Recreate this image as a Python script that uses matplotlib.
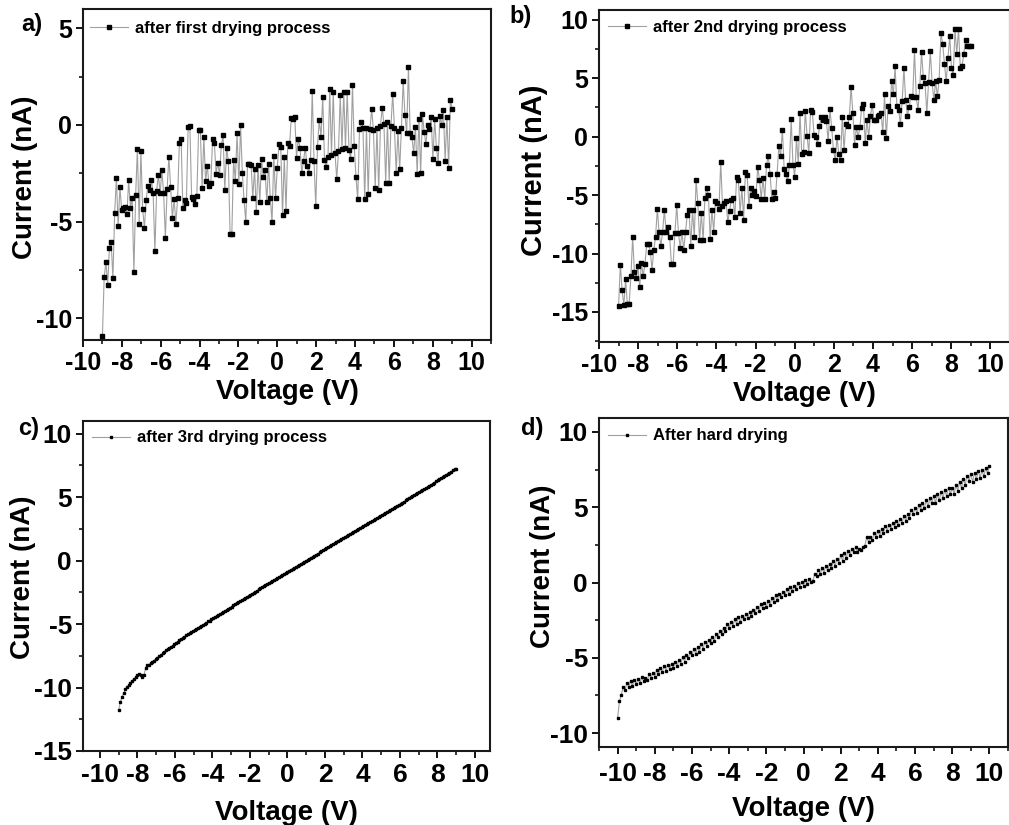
import matplotlib
matplotlib.use("Agg")
import matplotlib.pyplot as plt
from matplotlib.ticker import MultipleLocator

plt.rcParams['font.family'] = ['Liberation Sans', 'DejaVu Sans']
plt.rcParams['font.weight'] = 'bold'
plt.rcParams['axes.unicode_minus'] = False

# ---------------- data ----------------
VOLT_AB = [
    -9.00, -8.91, -8.82, -8.73, -8.64, -8.55, -8.46, -8.37, -8.28, -8.19,
    -8.10, -8.01, -7.92, -7.83, -7.74, -7.65, -7.56, -7.47, -7.38, -7.29,
    -7.20, -7.11, -7.02, -6.93, -6.84, -6.75, -6.66, -6.57, -6.48, -6.39,
    -6.30, -6.21, -6.12, -6.03, -5.94, -5.85, -5.76, -5.67, -5.58, -5.49,
    -5.40, -5.31, -5.22, -5.13, -5.04, -4.95, -4.86, -4.77, -4.68, -4.59,
    -4.50, -4.41, -4.32, -4.23, -4.14, -4.05, -3.96, -3.87, -3.78, -3.69,
    -3.60, -3.51, -3.42, -3.33, -3.24, -3.15, -3.06, -2.97, -2.88, -2.79,
    -2.70, -2.61, -2.52, -2.43, -2.34, -2.25, -2.16, -2.07, -1.98, -1.89,
    -1.80, -1.71, -1.62, -1.53, -1.44, -1.35, -1.26, -1.17, -1.08, -0.99,
    -0.90, -0.81, -0.72, -0.63, -0.54, -0.45, -0.36, -0.27, -0.18, -0.09,
    0.00, 0.09, 0.18, 0.27, 0.36, 0.45, 0.54, 0.63, 0.72, 0.81,
    0.90, 0.99, 1.08, 1.17, 1.26, 1.35, 1.44, 1.53, 1.62, 1.71,
    1.80, 1.89, 1.98, 2.07, 2.16, 2.25, 2.34, 2.43, 2.52, 2.61,
    2.70, 2.79, 2.88, 2.97, 3.06, 3.15, 3.24, 3.33, 3.42, 3.51,
    3.60, 3.69, 3.78, 3.87, 3.96, 4.05, 4.14, 4.23, 4.32, 4.41,
    4.50, 4.59, 4.68, 4.77, 4.86, 4.95, 5.04, 5.13, 5.22, 5.31,
    5.40, 5.49, 5.58, 5.67, 5.76, 5.85, 5.94, 6.03, 6.12, 6.21,
    6.30, 6.39, 6.48, 6.57, 6.66, 6.75, 6.84, 6.93, 7.02, 7.11,
    7.20, 7.29, 7.38, 7.47, 7.56, 7.65, 7.74, 7.83, 7.92, 8.01,
    8.10, 8.19, 8.28, 8.37, 8.46, 8.55, 8.64, 8.73, 8.82, 8.91,
    9.00,
]

I_A = [
    -10.93, -7.88, -7.08, -8.27, -6.36, -6.06, -7.94, -4.56, -2.75, -5.23,
    -3.21, -4.39, -4.28, -4.23, -4.63, -2.87, -4.28, -3.77, -7.62, -3.64,
    -1.23, -5.11, -1.35, -4.37, -5.32, -3.89, -3.16, -3.39, -2.85, -3.54,
    -6.53, -3.42, -2.61, -3.51, -2.35, -3.54, -5.84, -3.33, -1.64, -3.20,
    -4.80, -3.85, -5.11, -3.80, -0.92, -0.74, -4.30, -3.90, -4.06, -0.10,
    -0.05, -3.73, -3.83, -4.09, -3.68, -0.26, -0.26, -3.25, -0.62, -2.90,
    -2.11, -3.18, -2.99, -0.74, -0.93, -2.52, -1.97, -2.57, -1.04, -0.54,
    -3.39, -1.17, -1.87, -5.66, -5.63, -1.81, -2.90, -0.43, -3.04, -0.02,
    -2.47, -3.90, -5.03, -2.00, -2.00, -2.07, -3.77, -2.26, -4.49, -2.07,
    -3.99, -1.78, -2.68, -2.35, -3.99, -2.00, -3.80, -5.03, -1.61, -3.77,
    -2.21, -1.00, -1.14, -4.68, -1.66, -4.46, -0.92, -1.09, 0.38, 0.33,
    0.41, -1.69,
    -0.71, -1.17, -2.47, -1.87, -1.17, -2.12, -2.50, -1.83, 1.76, -1.87,
    -4.20, -1.12, 0.26, -0.62, 1.47, -1.83, -2.16, -1.66, 1.85, -1.55,
    1.73, -1.43, -2.82, -1.35, 1.54, -1.23, 1.73, -1.17, 1.73, -1.30,
    -1.78, 2.07, -1.09, -2.68, -3.85, -0.22, 0.17, -0.14, -3.85, -0.14,
    -3.59, -0.19, 0.81, -0.28, -3.25, -0.14, -3.39, -0.07, 0.90, 0.03,
    -2.99, 0.17, -2.99, -0.05, 1.62, -0.14, -2.47, -0.31, -2.30, -0.14,
    2.28, 0.52, -0.43, 3.01, -0.43, -0.62, -1.47, -0.10, -2.52, 0.29,
    -2.47, 0.55, -0.36, -1.00, -0.02, -0.22, 0.41, -1.78, 0.29, -1.17,
    -1.95, 0.47, 0.00, 0.78, -1.87, 0.41, -2.21, 1.28, 0.85,
]

I_B = [
    -14.50, -10.94, -13.08, -14.44, -12.22, -14.36, -14.36, -11.94, -8.58, -11.60,
    -12.08, -11.08, -12.85, -10.80, -11.94, -10.88, -9.15, -9.17, -9.83, -11.37,
    -9.66, -8.58, -6.18, -8.18, -9.37, -8.15, -6.24, -8.15, -7.75, -8.58,
    -10.88, -10.88, -8.23, -5.87, -8.23, -9.52, -8.18, -9.66, -8.15, -6.67,
    -6.30, -9.32, -6.30, -8.58, -3.70, -5.67, -8.86, -6.52, -8.86, -5.21,
    -4.39, -4.96, -8.72, -6.24, -8.15, -5.53, -5.67, -6.15, -2.14, -5.90,
    -5.67, -5.47, -7.32, -6.38, -5.38, -5.27, -6.87, -3.48, -3.68, -6.52,
    -4.39, -7.09, -3.05, -3.30, -5.95, -4.39, -5.01, -4.62, -5.04, -2.59,
    -3.68, -5.30, -3.56, -5.30, -2.39, -1.68, -3.16, -5.33, -4.76, -5.27,
    -3.16, -0.83, -1.62, 0.60, -2.76, -3.16, -3.82, -2.39, 1.54, -2.39,
    -3.45, -0.11, -2.34, 2.02, -1.48, -1.34, 2.22, 0.09,
    -1.40, 2.25, 2.08, 0.17, -0.03, -0.60, 0.88, 1.65, 1.45, 1.68,
    1.31, -0.40, 2.36, 0.74, -1.17, -1.97, -0.03, -1.45, -1.97, 1.68,
    -1.17, 1.11, 0.94, 1.68, 4.25, 2.02, -0.68, 0.83, -0.03, 0.83,
    2.45, 2.82, -0.54, 1.45, -0.03, 1.79, 2.74, 1.45, 1.40, 1.74,
    1.88, 2.02, 0.37, 3.65, -0.11, 2.59, 2.22, 4.73, 3.68, 6.01,
    2.59, 2.31, 1.08, 3.02, 5.87, 3.11, 1.79, 2.54, 3.45, 3.39,
    7.38, 3.39, 2.31, 4.30, 7.24, 5.10, 4.59, 2.02, 4.64, 7.29,
    4.59, 3.16, 4.73, 3.45, 4.81, 8.86, 7.95, 6.24, 4.73, 6.72,
    8.63, 5.87, 5.30, 9.20, 7.09, 9.20, 5.87, 6.01, 7.09, 8.29,
    7.78, 7.78, 7.78,
]

I_C = [
    -11.80, -11.15, -10.75, -10.45, -10.15, -9.95, -9.78, -9.62, -9.48, -9.32,
    -9.18, -9.02, -8.95, -9.05, -9.20, -9.05, -8.45, -8.25, -8.20, -8.08,
    -7.98, -7.87, -7.75, -7.64, -7.53, -7.42, -7.31, -7.20, -7.08, -6.97,
    -6.88, -6.78, -6.69, -6.56, -6.47, -6.38, -6.28, -6.20, -6.10, -5.99,
    -5.90, -5.82, -5.74, -5.63, -5.56, -5.47, -5.39, -5.30, -5.21, -5.14,
    -5.05, -4.96, -4.88, -4.79, -4.72, -4.63, -4.55, -4.42, -4.38, -4.28,
    -4.21, -4.12, -4.04, -3.96, -3.87, -3.79, -3.70, -3.62, -3.53, -3.45,
    -3.36, -3.28, -3.19, -3.11, -3.02, -2.94, -2.85, -2.77, -2.68, -2.60,
    -2.52, -2.44, -2.36, -2.27, -2.19, -2.10, -2.02, -1.94, -1.86, -1.78,
    -1.70, -1.62, -1.53, -1.45, -1.37, -1.29, -1.20, -1.12, -1.04, -0.96,
    -0.88, -0.80, -0.72, -0.64, -0.56, -0.48, -0.40, -0.32, -0.24, -0.16,
    -0.08, 0.00, 0.08, 0.16, 0.24, 0.32, 0.40, 0.48, 0.56, 0.64,
    0.72, 0.80, 0.88, 0.96, 1.04, 1.12, 1.20, 1.28, 1.36, 1.44,
    1.52, 1.60, 1.68, 1.76, 1.84, 1.92, 2.00, 2.08, 2.16, 2.24,
    2.32, 2.40, 2.48, 2.56, 2.64, 2.72, 2.80, 2.88, 2.96, 3.04,
    3.12, 3.20, 3.28, 3.36, 3.44, 3.52, 3.60, 3.68, 3.76, 3.84,
    3.92, 4.00, 4.08, 4.16, 4.24, 4.33, 4.41, 4.49, 4.57, 4.65,
    4.74, 4.82, 4.90, 4.98, 5.07, 5.15, 5.23, 5.32, 5.40, 5.48,
    5.57, 5.65, 5.73, 5.82, 5.90, 5.98, 6.07, 6.15, 6.24, 6.32,
    6.41, 6.49, 6.58, 6.66, 6.75, 6.84, 6.93, 7.02, 7.11, 7.20,
    7.25,
]

VOLT_D = [
    -10.0, -9.9, -9.8, -9.7, -9.6, -9.5, -9.4, -9.3, -9.2, -9.1,
    -9.0, -8.9, -8.8, -8.7, -8.6, -8.5, -8.4, -8.3, -8.2, -8.1,
    -8.0, -7.9, -7.8, -7.7, -7.6, -7.5, -7.4, -7.3, -7.2, -7.1,
    -7.0, -6.9, -6.8, -6.7, -6.6, -6.5, -6.4, -6.3, -6.2, -6.1,
    -6.0, -5.9, -5.8, -5.7, -5.6, -5.5, -5.4, -5.3, -5.2, -5.1,
    -5.0, -4.9, -4.8, -4.7, -4.6, -4.5, -4.4, -4.3, -4.2, -4.1,
    -4.0, -3.9, -3.8, -3.7, -3.6, -3.5, -3.4, -3.3, -3.2, -3.1,
    -3.0, -2.9, -2.8, -2.7, -2.6, -2.5, -2.4, -2.3, -2.2, -2.1,
    -2.0, -1.9, -1.8, -1.7, -1.6, -1.5, -1.4, -1.3, -1.2, -1.1,
    -1.0, -0.9, -0.8, -0.7, -0.6, -0.5, -0.4, -0.3, -0.2, -0.1,
    0.0, 0.1, 0.2, 0.3, 0.4, 0.5, 0.6, 0.7, 0.8, 0.9,
    1.0, 1.1, 1.2, 1.3, 1.4, 1.5, 1.6, 1.7, 1.8, 1.9,
    2.0, 2.1, 2.2, 2.3, 2.4, 2.5, 2.6, 2.7, 2.8, 2.9,
    3.0, 3.1, 3.2, 3.3, 3.4, 3.5, 3.6, 3.7, 3.8, 3.9,
    4.0, 4.1, 4.2, 4.3, 4.4, 4.5, 4.6, 4.7, 4.8, 4.9,
    5.0, 5.1, 5.2, 5.3, 5.4, 5.5, 5.6, 5.7, 5.8, 5.9,
    6.0, 6.1, 6.2, 6.3, 6.4, 6.5, 6.6, 6.7, 6.8, 6.9,
    7.0, 7.1, 7.2, 7.3, 7.4, 7.5, 7.6, 7.7, 7.8, 7.9,
    8.0, 8.1, 8.2, 8.3, 8.4, 8.5, 8.6, 8.7, 8.8, 8.9,
    9.0, 9.1, 9.2, 9.3, 9.4, 9.5, 9.6, 9.7, 9.8, 9.9,
    10.0,
]

I_D = [
    -9.00, -7.90, -7.45, -6.95, -7.15, -6.65, -6.95, -6.55, -6.85, -6.45,
    -6.75, -6.40, -6.70, -6.30, -6.55, -6.35, -6.50, -6.05, -6.35, -6.00,
    -6.25, -5.80, -6.10, -5.70, -5.95, -5.55, -5.85, -5.45, -5.75, -5.40,
    -5.65, -5.30, -5.55, -5.15, -5.40, -4.95, -5.25, -4.80, -5.00, -4.65,
    -4.85, -4.40, -4.75, -4.30, -4.60, -4.10, -4.40, -3.95, -4.20, -3.80,
    -4.05, -3.60, -3.90, -3.40, -3.65, -3.20, -3.45, -3.00, -3.25, -2.75,
    -3.05, -2.60, -2.90, -2.45, -2.75, -2.30, -2.60, -2.25, -2.45, -2.10,
    -2.35, -1.95, -2.25, -1.85, -2.00, -1.60, -1.90, -1.45, -1.70, -1.35,
    -1.60, -1.25, -1.50, -1.05, -1.30, -0.85, -1.15, -0.75, -0.95, -0.60,
    -0.85, -0.45, -0.75, -0.30, -0.55, -0.20, -0.45, -0.05, -0.30, 0.05,
    -0.20, 0.15, -0.10, 0.20, 0.05, 0.10, 0.55, 0.45, 0.85, 0.55,
    0.95, 0.65, 1.10, 0.80, 1.25, 0.95, 1.40, 1.10, 1.55, 1.30,
    1.80, 1.45, 1.95, 1.65, 2.10, 1.80, 2.25, 2.00, 2.35, 2.05,
    2.20, 2.15, 2.35, 2.45, 3.00, 2.70, 3.05, 2.80, 3.30, 3.00,
    3.45, 3.10, 3.55, 3.30, 3.75, 3.45, 3.85, 3.55, 3.95, 3.70,
    4.10, 3.80, 4.25, 3.95, 4.40, 4.10, 4.55, 4.30, 4.85, 4.55,
    4.95, 4.60, 5.15, 4.85, 5.25, 4.95, 5.45, 5.05, 5.60, 5.25,
    5.75, 5.30, 5.85, 5.45, 6.00, 5.60, 6.15, 5.75, 6.30, 5.90,
    6.30, 5.90, 6.45, 6.10, 6.70, 6.25, 6.90, 6.50, 7.10, 6.75,
    7.20, 6.70, 7.30, 6.85, 7.40, 6.95, 7.45, 7.05, 7.60, 7.25,
    7.75,
]

LABELS = ['after first drying process', 'after 2nd drying process',
          'after 3rd drying process', 'After hard drying']
LETTERS = ['a)', 'b)', 'c)', 'd)']
X_TICKS = [-10, -8, -6, -4, -2, 0, 2, 4, 6, 8, 10]

# ---------------- figure ----------------
W, H = 1009, 825
fig = plt.figure(figsize=(W / 100, H / 100), dpi=100)


def px_axes(l, t, r, b):
    return fig.add_axes([l / W, 1 - b / H, (r - l) / W, (b - t) / H])


panels = [
    dict(box=(83, 9, 491, 340), xlim=(-10, 11), ylim=(-11.13, 6.0),
         x=VOLT_AB, y=I_A, ms=3.2, tfs=18, leg=(90, 28), let=(32, 25),
         ylab=(38, 177), ylfs=20, xlp=3, tpad=3),
    dict(box=(599, 10, 1010, 342), xlim=(-10, 11), ylim=(-17.57, 10.84),
         x=VOLT_AB, y=I_B, ms=3.2, tfs=18, leg=(608, 27), let=(521, 16),
         ylab=(548, 170), ylfs=21, xlp=3, tpad=3),
    dict(box=(83, 421, 490, 751), xlim=(-10.9, 10.8), ylim=(-15, 11.0),
         x=VOLT_AB, y=I_C, ms=1.5, tfs=19, leg=(92, 438), let=(29, 428),
         ylab=(36, 577), ylfs=20, xlp=9, tpad=4),
    dict(box=(599, 418, 1008, 747), xlim=(-11, 11), ylim=(-10.93, 10.93),
         x=VOLT_D, y=I_D, ms=1.5, tfs=19, leg=(608, 436), let=(532, 428),
         ylab=(556, 566), ylfs=20, xlp=7, tpad=6),
]

for p, lab, letter in zip(panels, LABELS, LETTERS):
    l, t, r, b = p['box']
    ax = px_axes(l, t, r, b)
    ax.plot(p['x'], p['y'], color='#a0a0a0', lw=0.8, marker='s',
            ms=p['ms'], mfc='black', mec='black', label=lab)
    ax.set_xlim(*p['xlim'])
    ax.set_ylim(*p['ylim'])
    ax.set_xticks(X_TICKS)
    ax.xaxis.set_minor_locator(MultipleLocator(1))
    ax.yaxis.set_major_locator(MultipleLocator(5))
    ax.yaxis.set_minor_locator(MultipleLocator(2.5))
    ax.tick_params(which='major', direction='out', length=5, width=1.3,
                   labelsize=p['tfs'], pad=3, top=False, right=False)
    ax.tick_params(axis='x', which='major', pad=p['tpad'])
    ax.tick_params(which='minor', direction='out', length=3, width=1.1,
                   top=False, right=False)
    for lbl in ax.get_xticklabels() + ax.get_yticklabels():
        lbl.set_fontweight('bold')
    for s in ax.spines.values():
        s.set_linewidth(1.5)
        s.set_color('#1a1a1a')
    ax.set_xlabel('Voltage (V)', fontsize=20, fontweight='bold',
                  labelpad=p['xlp'])
    ax.set_ylabel('Current (nA)', fontsize=p['ylfs'], fontweight='bold')
    yx, yy = p['ylab']
    ax.yaxis.set_label_coords((yx - l) / (r - l), 1 - (yy - t) / (b - t))
    lx, ly = p['leg']
    ax.legend(loc='center left',
              bbox_to_anchor=((lx - l) / (r - l), 1 - (ly - t) / (b - t)),
              frameon=False, borderpad=0, borderaxespad=0,
              handlelength=2.3, handletextpad=0.4,
              prop={'size': 12, 'weight': 'bold'})
    fig.text(p['let'][0] / W, 1 - p['let'][1] / H, letter, fontsize=17,
             fontweight='bold', ha='center', va='center')

fig.savefig('out.png', dpi=100)
